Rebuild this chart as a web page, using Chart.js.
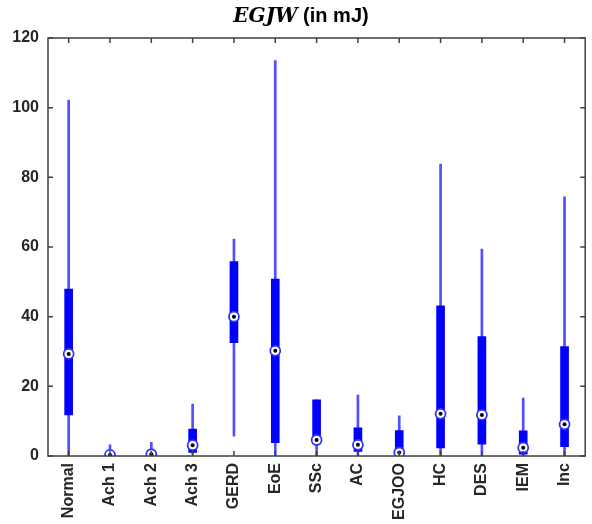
<!DOCTYPE html>
<html>
<head>
<meta charset="utf-8">
<script src="https://cdn.jsdelivr.net/npm/chart.js@4/dist/chart.umd.min.js"></script>
<style>
  body { margin: 0; background: #fff; }
  #wrap { position: relative; width: 592px; height: 524px; }
  #title {
    position: absolute; top: 3px; left: 5px; width: 592px;
    text-align: center; font-size: 20px; font-weight: bold; color: #000;
    font-family: "Liberation Sans", Arial, sans-serif;
  }
  #title .v { font-family: "DejaVu Serif", "Liberation Serif", serif; font-style: italic; }
</style>
</head>
<body>
<div id="wrap">
  <div id="title"><span class="v">EGJW</span> (in mJ)</div>
  <canvas id="graph" width="592" height="524"></canvas>
</div>
<script>
// groups on the x axis
var categories = ['Normal', 'Ach 1', 'Ach 2', 'Ach 3', 'GERD', 'EoE', 'SSc', 'AC', 'EGJOO', 'HC', 'DES', 'IEM', 'Inc'];

// box plot summary per group (mJ)
var whiskerLow  = [0,    0,   0,   0.5, 5.7,  0,    0,    0,    0,    0,    0,    0,    0];
var whiskerHigh = [102.2, 3.2, 3.9, 14.9, 62.3, 113.5, 16.1, 17.5, 11.5, 83.8, 59.4, 16.6, 74.4];
var q1          = [11.8, 0.1, 0.2, 1.0, 32.5, 3.8,  3.6,  1.3,  0.4,  2.3,  3.4,  0.5,  2.7];
var q3          = [47.9, 0.6, 0.8, 7.7, 55.8, 50.8, 16.1, 8.1,  7.3,  43.1, 34.3, 7.2,  31.4];
var medians     = [29.3, 0.3, 0.5, 3.1, 40.0, 30.2, 4.6,  3.2,  1.0,  12.1, 11.8, 2.4,  9.1];

var yTicks = [0, 20, 40, 60, 80, 100, 120];

var axisColor = '#404040';

// box outline + inward ticks on all four sides (matlab style)
var frameTicks = {
    id: 'frameTicks',
    afterDraw: function (chart) {
        var ctx = chart.ctx, a = chart.chartArea;
        var xs = chart.scales.x, ys = chart.scales.y;
        var len = 5;
        ctx.save();
        ctx.strokeStyle = axisColor;
        ctx.lineWidth = 1.5;
        ctx.beginPath();
        xs.ticks.forEach(function (t, i) {
            var px = xs.getPixelForTick(i);
            ctx.moveTo(px, a.bottom); ctx.lineTo(px, a.bottom - len);
            ctx.moveTo(px, a.top); ctx.lineTo(px, a.top + len);
        });
        yTicks.forEach(function (v) {
            var py = ys.getPixelForValue(v);
            ctx.moveTo(a.left, py); ctx.lineTo(a.left + len, py);
            ctx.moveTo(a.right, py); ctx.lineTo(a.right - len, py);
        });
        ctx.stroke();
        ctx.strokeRect(a.left, a.top, a.right - a.left, a.bottom - a.top);
        ctx.restore();
    }
};

var ctx = document.getElementById('graph').getContext('2d');
var chart = new Chart(ctx, {
    type: 'bar',
    data: {
        labels: categories,
        datasets: [
            {
                label: 'median dot',
                type: 'line',
                data: medians,
                showLine: false,
                pointRadius: 2,
                pointBackgroundColor: '#000',
                pointBorderWidth: 0,
                order: 0
            },
            {
                label: 'median',
                type: 'line',
                data: medians,
                showLine: false,
                pointRadius: 5,
                pointBackgroundColor: '#fff',
                pointBorderColor: 'rgb(50,50,255)',
                pointBorderWidth: 1.8,
                order: 1
            },
            {
                label: 'box',
                data: q1.map((v, i) => [v, q3[i]]),
                backgroundColor: 'rgb(0,0,255)',
                barThickness: 8,
                grouped: false,
                order: 2
            },
            {
                label: 'whisker',
                data: whiskerLow.map((v, i) => [v, whiskerHigh[i]]),
                backgroundColor: 'rgb(80,80,255)',
                barThickness: 2,
                grouped: false,
                order: 3
            }
        ]
    },
    options: {
        responsive: false,
        animation: false,
        devicePixelRatio: 1,
        layout: { padding: { top: 38, right: 4, left: 0, bottom: 0 } },
        plugins: { legend: { display: false }, tooltip: { enabled: false } },
        scales: {
            x: {
                offset: true,
                grid: { display: false, drawTicks: false },
                border: { display: false },
                afterFit: function (s) { s.height = 68; },
                ticks: {
                    minRotation: 90,
                    maxRotation: 90,
                    padding: 7,
                    color: '#262626',
                    font: { family: 'Liberation Sans, Arial, sans-serif', size: 16, weight: 'bold' }
                }
            },
            y: {
                min: 0,
                max: 120,
                grid: { display: false, drawTicks: false },
                border: { display: false },
                afterFit: function (s) { s.width = 48; },
                ticks: {
                    stepSize: 20,
                    padding: 9,
                    color: '#262626',
                    font: { family: 'Liberation Sans, Arial, sans-serif', size: 16, weight: 'bold' }
                }
            }
        }
    },
    plugins: [frameTicks]
});
</script>
</body>
</html>
